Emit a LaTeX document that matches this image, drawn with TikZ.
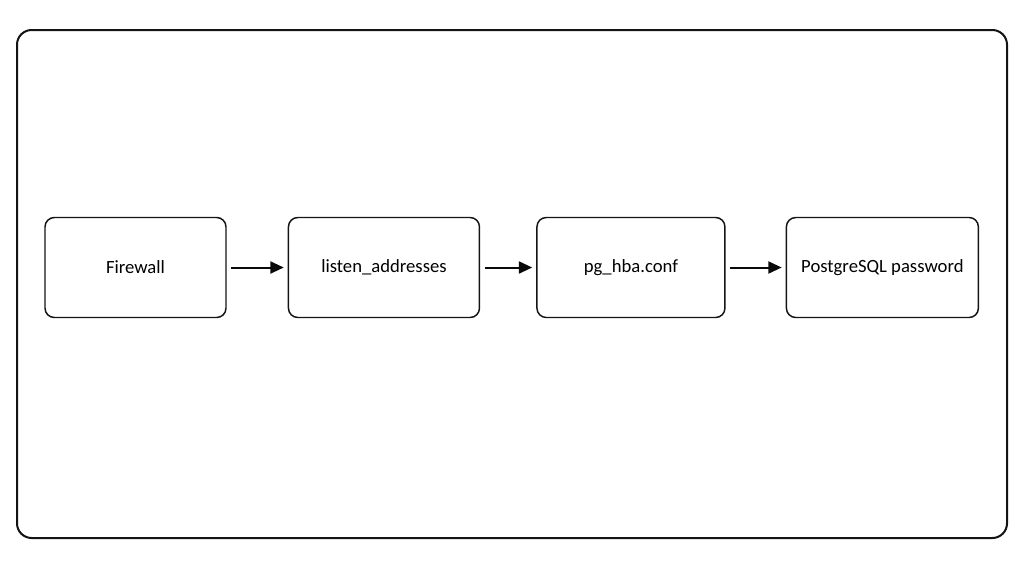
\documentclass[tikz,border=0pt]{standalone}
\usepackage{fontspec}
\setmainfont{Carlito}
\usetikzlibrary{arrows.meta, positioning}
\definecolor{colBorder}{RGB}{20,20,20}
\definecolor{colArrow}{RGB}{10,10,10}
\tikzset{
  stepBox/.style={
    rectangle, rounded corners=7pt,
    draw=colBorder, line width=1.1pt,
    fill=white,
    text centered, font=\fontsize{14}{16}\selectfont,
    inner sep=4pt, minimum height=75pt,
    align=center
  },
  arr/.style={
    -{Triangle[length=10pt, width=9pt]}, line width=1.5pt, color=colArrow,
    shorten <=3.5pt, shorten >=3pt
  },
  frameBox/.style={
    rectangle, rounded corners=11pt,
    draw=colBorder, line width=1.5pt
  }
}
\begin{document}
\begin{tikzpicture}[x=0.75pt, y=-0.75pt, node distance=45pt]

  \useasboundingbox (0,0) rectangle (1024,576);
  \draw[frameBox] (17,30) rectangle (1007,538);

  \node[stepBox, minimum width=135.75pt] (fw) at (135.5,267.5) {Firewall};
  \node[stepBox, minimum width=143.25pt, right=45.75pt of fw] (listen) {listen\_addresses};
  \node[stepBox, minimum width=141pt, right=42pt of listen] (hba) {pg\_hba.conf};
  \node[stepBox, minimum width=144pt, right=45pt of hba] (pwd) {PostgreSQL password};

  % chain of checks
  \draw[arr] (fw) -- (listen);
  \draw[arr] (listen) -- (hba);
  \draw[arr] (hba) -- (pwd);

\end{tikzpicture}
\end{document}
